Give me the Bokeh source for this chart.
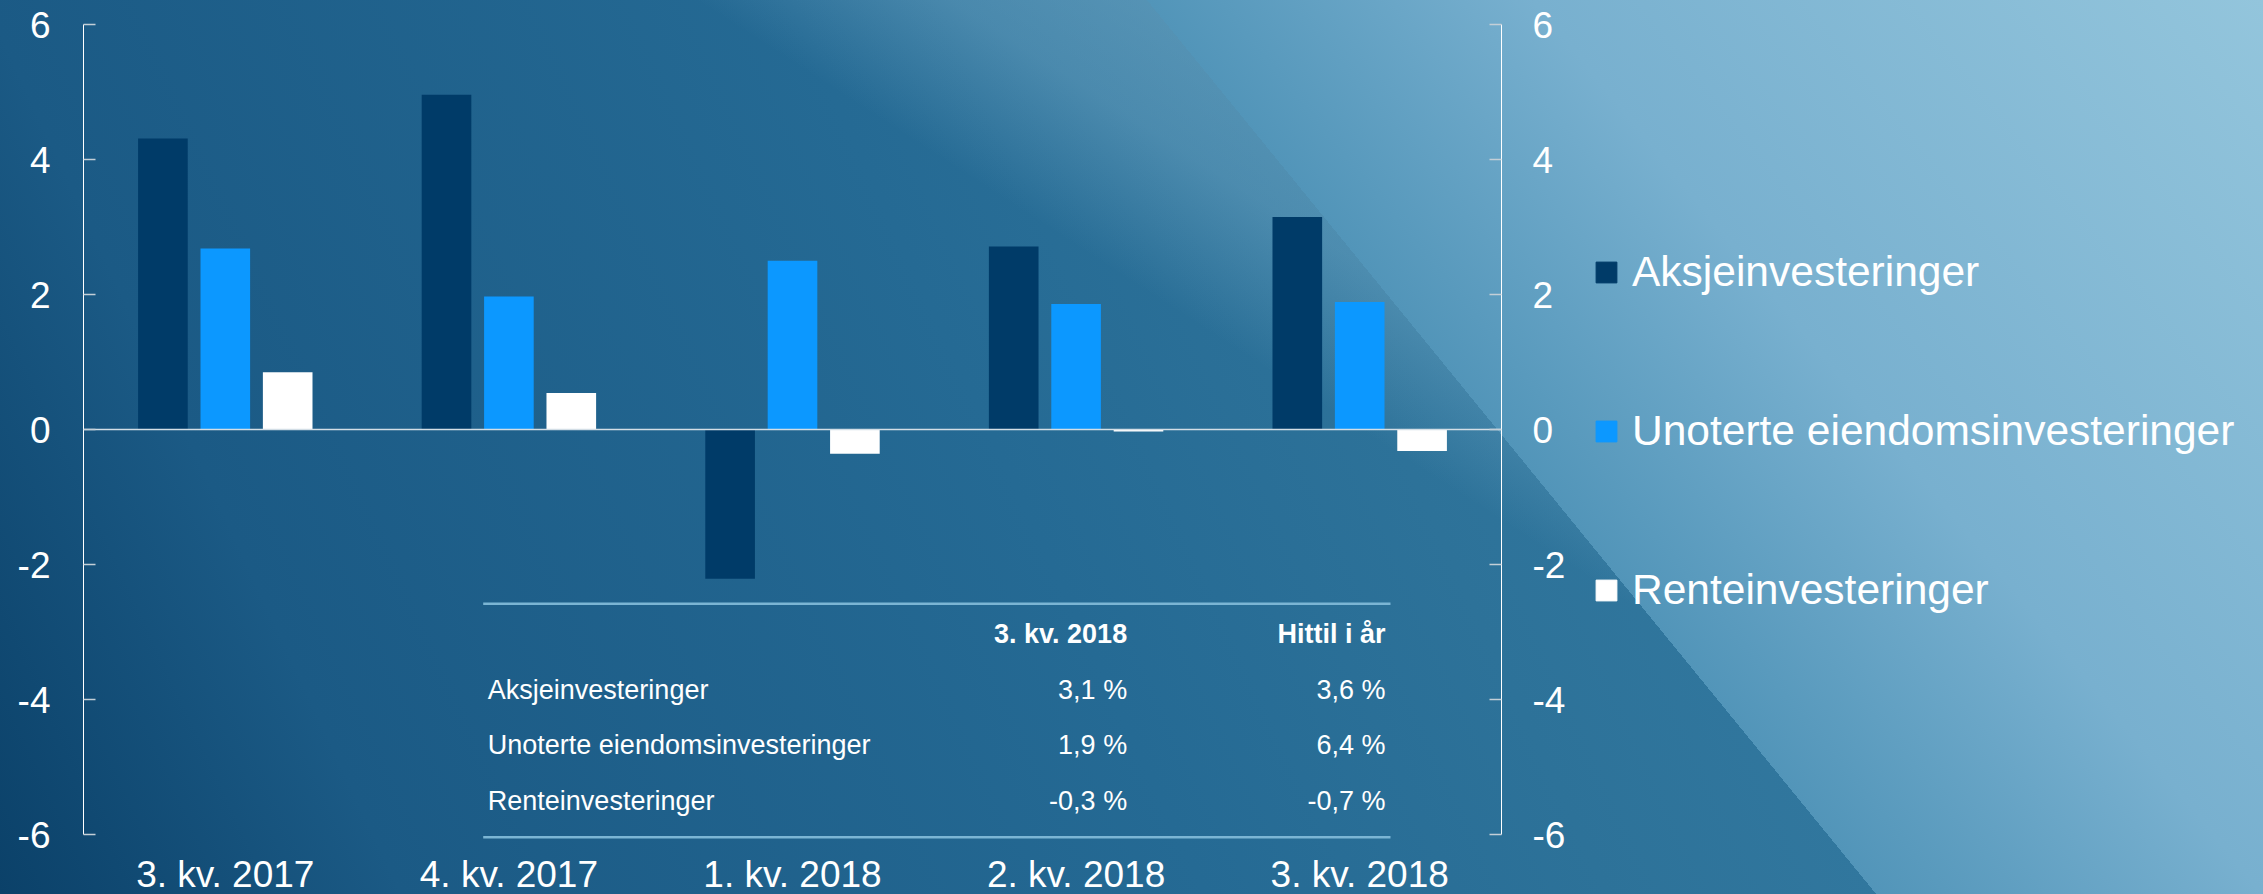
from bokeh.plotting import figure
from bokeh.models import (Range1d, LinearAxis, Legend, LegendItem, ColumnDataSource, FixedTicker)
from bokeh.transform import dodge
from bokeh.embed import file_html
from bokeh.resources import INLINE
from bokeh.core.properties import value

# ---------------- data ----------------
categories = ["3. kv. 2017", "4. kv. 2017", "1. kv. 2018", "2. kv. 2018", "3. kv. 2018"]
series_names = ["Aksjeinvesteringer", "Unoterte eiendomsinvesteringer", "Renteinvesteringer"]
aksje = [4.31, 4.96, -2.21, 2.71, 3.15]
eiendom = [2.68, 1.97, 2.50, 1.86, 1.89]
rente = [0.85, 0.54, -0.36, -0.03, -0.32]
y_ticks = [-6, -4, -2, 0, 2, 4, 6]

table_header = ["3. kv. 2018", "Hittil i år"]
table_rows = ["Aksjeinvesteringer", "Unoterte eiendomsinvesteringer", "Renteinvesteringer"]
table_q3 = ["3,1 %", "1,9 %", "-0,3 %"]
table_ytd = ["3,6 %", "6,4 %", "-0,7 %"]

# ---------------- layout constants ----------------
W, H = 2263, 894
PX_PER_Y = 67.5
PX_PER_X = 283.6
LEFT = 83
Y_TOP_PX = 24            # pixel position of the y = 6 tick
y_end = 6 + Y_TOP_PX / PX_PER_Y
y_start = y_end - H / PX_PER_Y
x_start = -0.5
x_end = x_start + (W - LEFT) / PX_PER_X
n_cat = len(categories)
cat_pos = list(range(n_cat))

FONT = "Liberation Sans"
DARK, LIGHT, WHITE = "#003b68", "#0c98ff", "#ffffff"
colors = [DARK, LIGHT, WHITE]
fields = ["aksje", "eiendom", "rente"]
offsets = [-0.22, 0.0, 0.22]
BAR_W = 0.175

bg = ("linear-gradient(50.8deg, rgba(0,0,0,0) 62.7%, #5295b9 62.7%, #78b0cf 75.6%, #93c5dc 100%), "
      "linear-gradient(32.9deg, rgba(150,200,225,0) 57%, rgba(150,200,225,0.3) 64%, "
      "rgba(150,200,225,0.4) 70%, rgba(150,200,225,0.5) 100%), "
      "linear-gradient(65deg, #0b4169 0%, #1b5a85 15%, #256a94 45%, #2d7299 60%, #3d86ad 100%)")

p = figure(width=W, height=H, x_range=Range1d(x_start, x_end), y_range=Range1d(y_start, y_end),
           output_backend="svg", toolbar_location=None,
           min_border_left=LEFT, min_border_right=0, min_border_top=0, min_border_bottom=0)
p.styles = {"background-image": bg, "background-color": "#256a94"}
p.background_fill_alpha = 0
p.border_fill_alpha = 0
p.outline_line_color = None
p.xgrid.visible = False
p.ygrid.visible = False

source = ColumnDataSource(dict(pos=cat_pos, cat=categories, aksje=aksje, eiendom=eiendom, rente=rente))

for f, c, off in zip(fields, colors, offsets):
    p.vbar(x=dodge("pos", off), top=f, bottom=0, width=BAR_W,
           source=source, fill_color=c, line_color=None)

# ---------------- axes ----------------
def style_y(ax, standoff):
    ax.ticker = FixedTicker(ticks=y_ticks)
    ax.major_label_overrides = {t: str(t) for t in y_ticks}
    ax.bounds = (-6, 6)
    ax.axis_line_color = "white"
    ax.axis_line_width = 1
    ax.major_tick_in = 12
    ax.major_tick_out = 0
    ax.major_tick_line_color = "#c4cfd7"
    ax.major_tick_line_width = 1.5
    ax.minor_tick_line_color = None
    ax.major_label_standoff = standoff
    ax.major_label_text_font = FONT
    ax.major_label_text_font_size = "37px"
    ax.major_label_text_color = "white"

style_y(p.yaxis[0], 33)
right_axis = LinearAxis(fixed_location=cat_pos[-1] + 0.5)
style_y(right_axis, 31)
p.add_layout(right_axis, "right")

# zero line as an axis at y = 0 spanning the categories
zero_axis = LinearAxis(fixed_location=0, bounds=(cat_pos[0] - 0.5, cat_pos[-1] + 0.5),
                       ticker=FixedTicker(ticks=[]))
zero_axis.axis_line_color = "#d3dee6"
zero_axis.axis_line_width = 1.5
zero_axis.major_tick_line_color = None
zero_axis.minor_tick_line_color = None
p.add_layout(zero_axis, "below")

xa = p.xaxis[0]
xa.fixed_location = -6
xa.ticker = FixedTicker(ticks=cat_pos)
xa.major_label_overrides = dict(zip(cat_pos, categories))
xa.axis_line_color = None
xa.major_tick_line_color = None
xa.minor_tick_line_color = None
xa.major_tick_out = 0
xa.major_label_standoff = 19
xa.major_label_text_font = FONT
xa.major_label_text_font_size = "37px"
xa.major_label_text_color = "white"

# ---------------- table ----------------
T_LEFT, T_RIGHT = 0.9094, 4.1086
T_LABEL_X, T_Q3_X, T_YTD_X = 0.9256, 3.180, 4.091
T_TOP_Y, T_BOT_Y = -2.582, -6.040
T_HEAD_Y = -3.027
T_ROW_Y = [-3.856, -4.681, -5.507]

p.segment(x0=[T_LEFT, T_LEFT], y0=[T_TOP_Y, T_BOT_Y], x1=[T_RIGHT, T_RIGHT], y1=[T_TOP_Y, T_BOT_Y],
          line_color="#7bb5d4", line_width=2.5)

txt = dict(text_font=value(FONT), text_font_size="27px", text_color="white", text_baseline="middle")
p.text(x=[T_Q3_X, T_YTD_X], y=[T_HEAD_Y, T_HEAD_Y], text=table_header, text_align="right",
       text_font_style="bold", **txt)
p.text(x=[T_LABEL_X] * 3, y=T_ROW_Y, text=table_rows, text_align="left", **txt)
p.text(x=[T_Q3_X] * 3, y=T_ROW_Y, text=table_q3, text_align="right", **txt)
p.text(x=[T_YTD_X] * 3, y=T_ROW_Y, text=table_ytd, text_align="right", **txt)

# ---------------- legend ----------------
items = []
for name, f, c in zip(series_names, fields, colors):
    r = p.scatter(x="pos", y=f, source=source, marker="square", size=21,
                  fill_color=c, line_color=c, visible=False)
    items.append(LegendItem(label=name, renderers=[r]))

legend = Legend(items=items, location=(1497, 278), orientation="vertical",
                glyph_width=52, glyph_height=52, label_height=52, spacing=107,
                label_standoff=0, padding=0, margin=0,
                border_line_alpha=0, background_fill_alpha=0,
                label_text_font=FONT, label_text_font_size="42.5px", label_text_color="white")
p.add_layout(legend, "center")

open("out.html", "w").write(file_html(p, INLINE))
